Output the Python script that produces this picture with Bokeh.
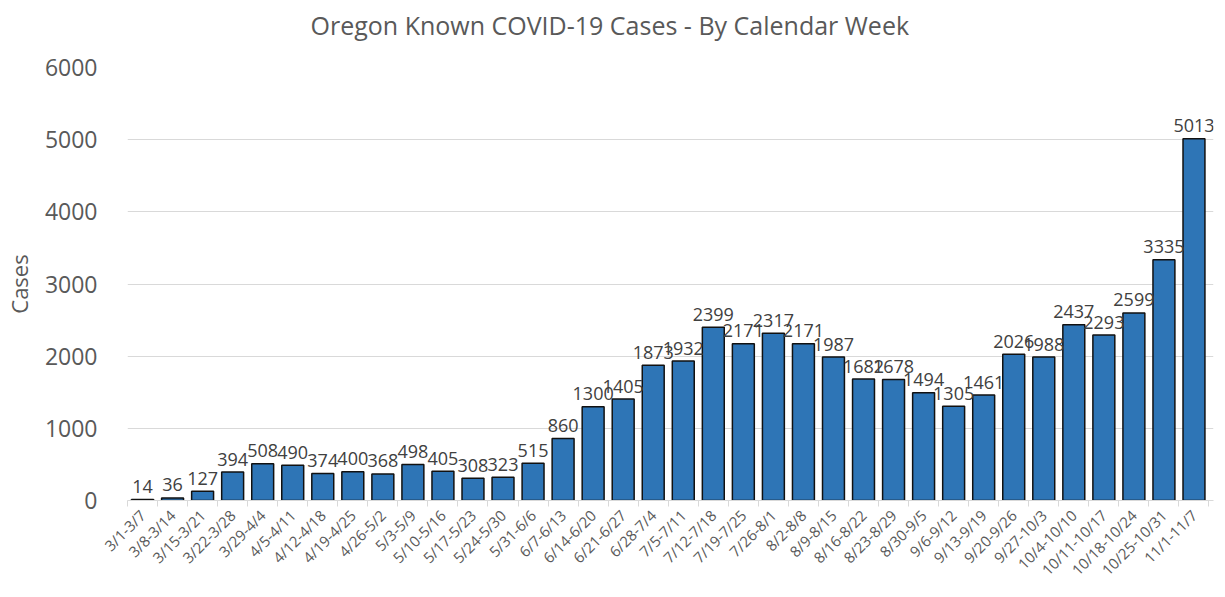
from bokeh.plotting import figure
from bokeh.models import ColumnDataSource, FixedTicker, Range1d, Title
from bokeh.embed import file_html
from bokeh.resources import INLINE
from bokeh.core.properties import value

weeks = ["3/1-3/7", "3/8-3/14", "3/15-3/21", "3/22-3/28", "3/29-4/4", "4/5-4/11",
         "4/12-4/18", "4/19-4/25", "4/26-5/2", "5/3-5/9", "5/10-5/16", "5/17-5/23",
         "5/24-5/30", "5/31-6/6", "6/7-6/13", "6/14-6/20", "6/21-6/27", "6/28-7/4",
         "7/5-7/11", "7/12-7/18", "7/19-7/25", "7/26-8/1", "8/2-8/8", "8/9-8/15",
         "8/16-8/22", "8/23-8/29", "8/30-9/5", "9/6-9/12", "9/13-9/19", "9/20-9/26",
         "9/27-10/3", "10/4-10/10", "10/11-10/17", "10/18-10/24", "10/25-10/31", "11/1-11/7"]
cases = [14, 36, 127, 394, 508, 490, 374, 400, 368, 498, 405, 308, 323, 515, 860,
         1300, 1405, 1873, 1932, 2399, 2171, 2317, 2171, 1987, 1682, 1678, 1494, 1305,
         1461, 2026, 1988, 2437, 2293, 2599, 3335, 5013]
y_ticks = [0, 1000, 2000, 3000, 4000, 5000, 6000]
title_text = "Oregon Known COVID-19 Cases - By Calendar Week"

n = len(weeks)
centers = [i + 0.5 for i in range(n)]
bounds = [i for i in range(n + 1)]

src = ColumnDataSource(dict(x=centers, y=cases, lab=[str(c) for c in cases]))

FONT = "Open Sans"
GRAY = "#595959"

p = figure(width=1217, height=589, output_backend="svg", toolbar_location=None,
           x_range=Range1d(0, n + 0.15), y_range=Range1d(0, 6000),
           min_border_left=127, min_border_right=4, min_border_top=66, min_border_bottom=88)
p.outline_line_color = None

p.title = Title(text=title_text, align="left",
                text_font=FONT, text_font_size="25px", text_font_style="normal",
                text_color=GRAY, offset=183)
p.add_layout(Title(text=" ", text_font_size="13px", text_color="white", standoff=4), "above")

p.vbar(x="x", top="y", width=0.73, source=src, fill_color="#2E75B6",
       line_color="#111111", line_width=1.5)
p.text(x="x", y="y", text="lab", source=src, text_align="center",
       text_baseline="alphabetic", y_offset=-13, text_font=value(FONT),
       text_font_size="18px", text_color="#404040")

# axes
p.xaxis.ticker = FixedTicker(ticks=centers, minor_ticks=bounds)
p.xaxis.major_label_overrides = {c: w for c, w in zip(centers, weeks)}
p.xaxis.major_label_orientation = 0.785398
p.xaxis.major_tick_line_color = None
p.xaxis.minor_tick_line_color = "#d9d9d9"
p.xaxis.minor_tick_in = 0
p.xaxis.minor_tick_out = 6
p.xaxis.axis_line_color = "#d9d9d9"
p.xaxis.major_label_text_font = FONT
p.xaxis.major_label_text_font_size = "15px"
p.xaxis.major_label_text_color = GRAY
p.xaxis.major_label_standoff = 6

p.yaxis.ticker = FixedTicker(ticks=y_ticks)
p.yaxis.axis_line_color = None
p.yaxis.major_tick_line_color = None
p.yaxis.minor_tick_line_color = None
p.yaxis.major_label_text_font = FONT
p.yaxis.major_label_text_font_size = "23px"
p.yaxis.major_label_text_color = GRAY
p.yaxis.major_label_standoff = 24
p.yaxis.axis_label = "Cases"
p.yaxis.axis_label_text_font = FONT
p.yaxis.axis_label_text_font_size = "22px"
p.yaxis.axis_label_text_font_style = "normal"
p.yaxis.axis_label_text_color = GRAY
p.yaxis.axis_label_standoff = 8

p.xgrid.grid_line_color = None
p.ygrid.ticker = FixedTicker(ticks=y_ticks)
p.ygrid.grid_line_color = "#d9d9d9"
p.ygrid.grid_line_width = 1

open("out.html", "w").write(file_html(p, INLINE))
